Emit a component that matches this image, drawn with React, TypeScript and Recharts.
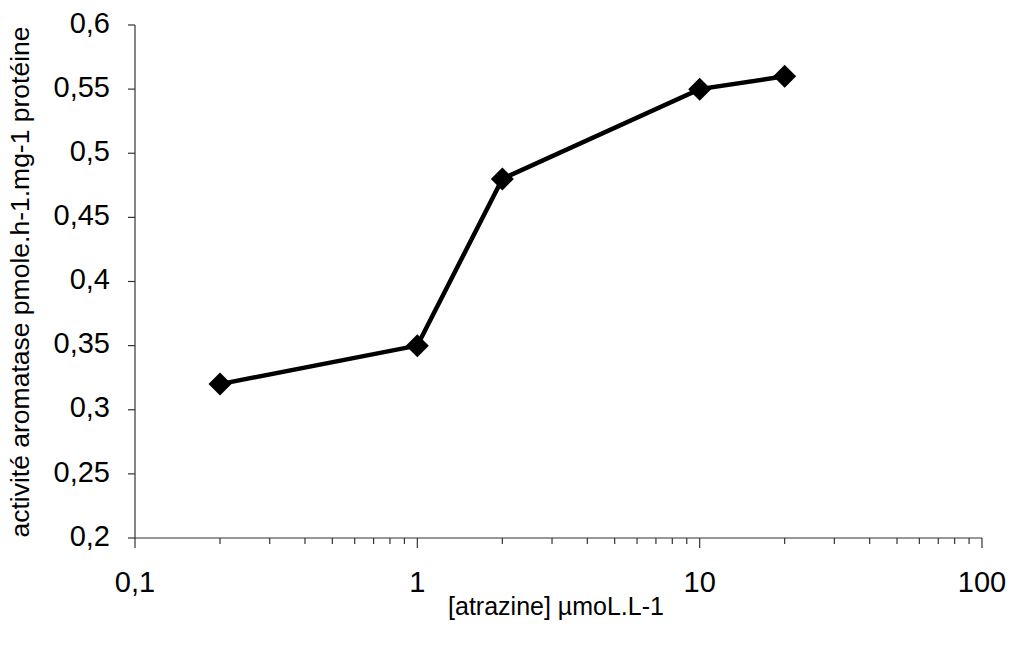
import React from 'react';
import { LineChart, Line, XAxis, YAxis, Label } from 'recharts';

// atrazine concentration (µmol/L) and aromatase activity
const concentrations = [0.2, 1, 2, 10, 20];
const activity = [0.32, 0.35, 0.48, 0.55, 0.56];

const xTicks = [
  0.1, 0.2, 0.3, 0.4, 0.5, 0.6, 0.7, 0.8, 0.9,
  1, 2, 3, 4, 5, 6, 7, 8, 9,
  10, 20, 30, 40, 50, 60, 70, 80, 90,
  100,
];
const xMajorTicks = [0.1, 1, 10, 100];
const yTicks = [0.2, 0.25, 0.3, 0.35, 0.4, 0.45, 0.5, 0.55, 0.6];

const xTitle = '[atrazine] µmoL.L-1';
const yTitle = 'activité aromatase pmole.h-1.mg-1 protéine';

const data = concentrations.map((c, i) => ({ conc: c, activity: activity[i] }));

const FONT = '"Liberation Sans", Arial, sans-serif';
const AXIS = '#333';

const fmt = (v: number) => String(v).replace('.', ',');

const XTick = (props: any) => {
  const { x, y, payload } = props;
  const major = xMajorTicks.includes(payload.value);
  return (
    <g>
      <line x1={x} y1={y} x2={x} y2={y + (major ? 10 : 6)} stroke={AXIS} strokeWidth={1.2} />
      {major && (
        <text x={x} y={y + 46} textAnchor="middle" dominantBaseline="middle"
          fontSize={29} fontFamily={FONT} fill="#000">
          {fmt(payload.value)}
        </text>
      )}
    </g>
  );
};

const YTick = (props: any) => {
  const { x, y, payload } = props;
  return (
    <g>
      <line x1={x - 7} y1={y} x2={x} y2={y} stroke={AXIS} strokeWidth={1.2} />
      <text x={x - 25} y={y} textAnchor="end" dominantBaseline="middle"
        fontSize={29} fontFamily={FONT} fill="#000">
        {fmt(payload.value)}
      </text>
    </g>
  );
};

const Diamond = (props: any) => {
  const { cx, cy } = props;
  if (cx == null || cy == null) return null;
  const r = 11.5;
  return (
    <polygon
      points={`${cx},${cy - r} ${cx + r},${cy} ${cx},${cy + r} ${cx - r},${cy}`}
      fill="#000"
    />
  );
};

export default function App() {
  return (
    <div style={{ position: 'absolute', left: 0, top: 0, background: '#fff' }}>
      <LineChart width={1011} height={645} data={data}
        margin={{ top: 25, right: 29, bottom: 0, left: 0 }}>
        <XAxis dataKey="conc" type="number" scale="log" domain={[0.1, 100]}
          allowDataOverflow ticks={xTicks} interval={0} tick={<XTick />}
          tickSize={0} tickMargin={0} height={107}
          axisLine={{ stroke: AXIS, strokeWidth: 1.2 }}>
          <Label content={() => (
            <text x={556} y={608} textAnchor="middle" dominantBaseline="middle"
              fontSize={25} fontFamily={FONT} fill="#000">{xTitle}</text>
          )} />
        </XAxis>
        <YAxis type="number" domain={[0.2, 0.6]} ticks={yTicks} interval={0}
          tick={<YTick />} tickSize={0} tickMargin={0} width={135}
          axisLine={{ stroke: AXIS, strokeWidth: 1.2 }}>
          <Label content={() => (
            <text x={22} y={282} transform="rotate(-90 22 282)" textAnchor="middle"
              dominantBaseline="middle" fontSize={26.5} fontFamily={FONT} fill="#000">{yTitle}</text>
          )} />
        </YAxis>
        <Line dataKey="activity" stroke="#000" strokeWidth={4.5} dot={<Diamond />}
          activeDot={false} isAnimationActive={false} />
      </LineChart>
    </div>
  );
}
